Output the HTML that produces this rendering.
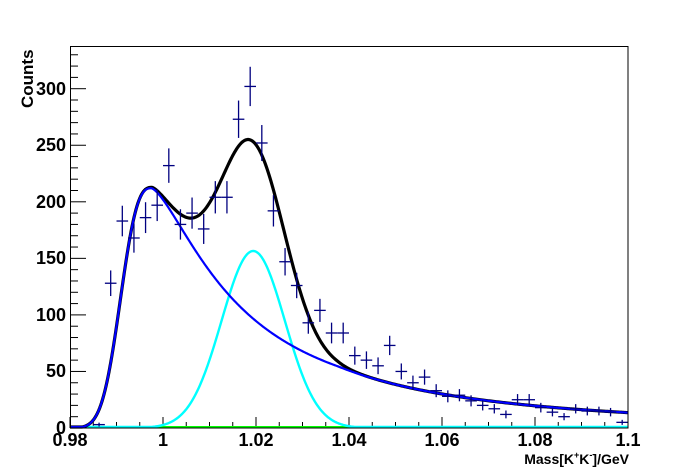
<!DOCTYPE html>
<html><head><meta charset="utf-8"><style>
html,body{margin:0;padding:0;background:#fff;}
svg{display:block;font-family:"Liberation Sans",Arial,sans-serif;font-weight:bold;}
</style></head><body>
<svg id="s" width="698" height="476" viewBox="0 0 698 476" xmlns="http://www.w3.org/2000/svg">
<rect x="0" y="0" width="698" height="476" fill="#fff"/>
<g id="ticks" stroke="#000" stroke-width="1"></g>
<g id="curves"></g>
<g id="pts" stroke-width="1.3"></g>
<rect x="70.5" y="46.5" width="557.5" height="381.5" fill="none" stroke="#000" stroke-width="1"/>
<g font-size="18" text-anchor="middle" fill="#000">
<text x="70" y="446">0.98</text>
<text x="163" y="446">1</text>
<text x="256" y="446">1.02</text>
<text x="349" y="446">1.04</text>
<text x="442" y="446">1.06</text>
<text x="535" y="446">1.08</text>
<text x="628" y="446">1.1</text>
</g>
<g font-size="18" text-anchor="end" fill="#000">
<text x="66" y="434">0</text>
<text x="66" y="377">50</text>
<text x="66" y="321">100</text>
<text x="66" y="264">150</text>
<text x="66" y="208">200</text>
<text x="66" y="151">250</text>
<text x="66" y="95">300</text>
</g>
<text x="629" y="464" font-size="14" text-anchor="end">Mass[K<tspan font-size="9" dy="-6">+</tspan><tspan dy="6">K</tspan><tspan font-size="9" dy="-6">-</tspan><tspan dy="6">]/GeV</tspan></text>
<text transform="translate(33,108) rotate(-90)" font-size="17">Counts</text>
</svg>
<script>
const X0=70,X1=628,Y0=428,sy=1.131;
const px=m=>X0+(m-0.98)/0.12*(X1-X0);
const py=v=>Y0-v*sy;
const NS="http://www.w3.org/2000/svg";
function el(p,t,a){const e=document.createElementNS(NS,t);for(const k in a)e.setAttribute(k,a[k]);p.appendChild(e);return e;}
const tk=document.getElementById('ticks');
for(let i=0;i<=24;i++){const m=0.98+i*0.005,x=px(m);const L=(i%4==0)?11:6;el(tk,'line',{x1:x,x2:x,y1:Y0,y2:Y0-L});}
for(let v=0;v<=330;v+=10){const y=py(v);const L=(v%50==0)?16:8;el(tk,'line',{x1:X0,x2:X0+L,y1:y,y2:y});}
function bg(m){const d=m-0.9975;if(d<0)return 212*Math.exp(-0.5*Math.pow(-d/0.00614,2.7));
 let f=212/(1+Math.pow(d/0.0194,1.46));if(d>0.04)f*=1-0.2*(d-0.04)/0.06;return f;}
function sg(m){return 156.5*Math.exp(-0.5*((m-1.0194)/0.0068)**2);}
function path(f,a,b){let s="";for(let i=0;i<=600;i++){const m=a+(b-a)*i/600;s+=(i?"L":"M")+px(m).toFixed(2)+","+Math.min(py(f(m)),Y0-1).toFixed(2);}return s;}
const cv=document.getElementById('curves');
el(cv,'line',{x1:146,x2:628,y1:427,y2:427,stroke:'#00ff00','stroke-width':2});
el(cv,'path',{d:path(sg,0.98,1.1),fill:'none',stroke:'#00ffff','stroke-width':2.4});
el(cv,'path',{d:path(m=>bg(m)+sg(m),0.98,1.1),fill:'none',stroke:'#000','stroke-width':3.2});
el(cv,'path',{d:path(bg,0.98,1.1),fill:'none',stroke:'#0000ff','stroke-width':2.2});
const data=[0,0,3,128,183,168,186,197,232,180,190,176,204,204,273,302,252,192,147,126,93,104,84,84,64,60,55,73,50,40,45,33,28,29,24,20,17,12,25,25,18,14,10,17,15,15,14,5];
const pg=document.getElementById('pts');
data.forEach((v,i)=>{if(v<=0)return;const m=0.98+0.00125+i*0.0025;const x=px(m),y=py(v);const e=Math.sqrt(v)*sy;
const c='#000080';
el(pg,'line',{x1:x-5.8,x2:x+5.8,y1:y,y2:y,stroke:c});
el(pg,'line',{x1:x,x2:x,y1:y-e,y2:Math.min(y+e,Y0),stroke:c});});
</script>
</body></html>
